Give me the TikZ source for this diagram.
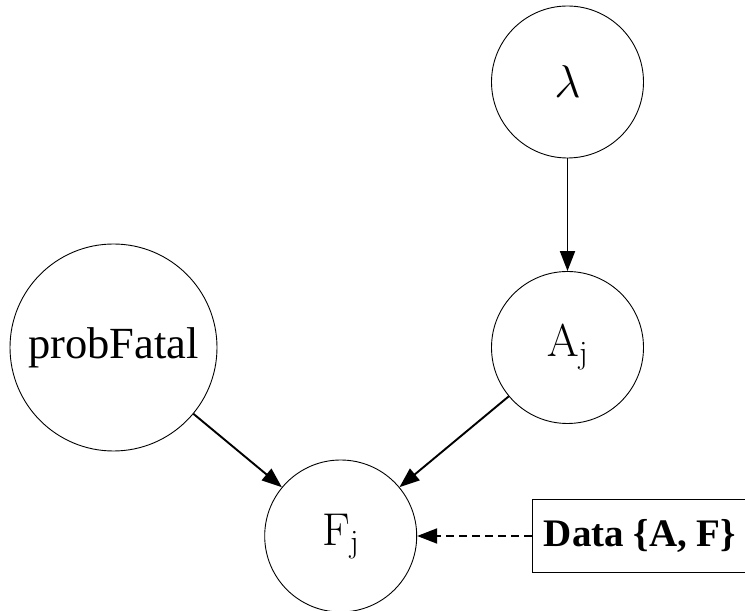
\RequirePackage{fix-cm}
\documentclass[tikz,border=0pt]{standalone}
\usepackage[no-math]{fontspec}
\setmainfont{Liberation Serif}
\usetikzlibrary{arrows.meta}
\begin{document}
\begin{tikzpicture}[x=1pt,y=1pt,
  var/.style={circle,draw,line width=0.9pt,minimum size=152pt,inner sep=0pt},
  bigvar/.style={circle,draw,line width=0.9pt,minimum size=207pt,inner sep=0pt},
  mathlbl/.style={font=\fontsize{46}{50}\selectfont},
  edge/.style={line width=1.9pt,-{Triangle[length=20pt,width=15pt]}},
  dataedge/.style={edge,dash pattern=on 8pt off 5pt}]
\useasboundingbox (0,0) rectangle (745,611);
\node[var,mathlbl] (lam) at (567.5,529) {$\lambda$};
\node[var,mathlbl] (A) at (567.5,263.5) {$\mathrm{A}_{\mathrm{j}}$};
\node[bigvar,font=\fontsize{44.5}{48}\selectfont] (pf) at (113.5,263.5) {probFatal};
\node[var,mathlbl] (F) at (340.7,75) {$\mathrm{F}_{\mathrm{j}}$};
\node[draw,line width=0.9pt,minimum width=216pt,minimum height=73pt,inner sep=0pt,
  font=\fontsize{39}{44}\selectfont\bfseries] (data) at (640,75) {Data \{A, F\}};
\draw[edge] (lam) -- (A);
\draw[edge] (pf) -- (F);
\draw[edge] (A) -- (F);
\draw[dataedge] (data) -- (F);
\end{tikzpicture}
\end{document}
